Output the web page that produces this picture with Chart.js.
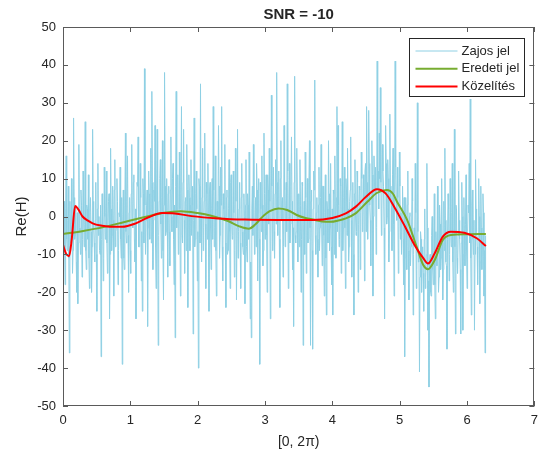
<!DOCTYPE html>
<html>
<head>
<meta charset="utf-8">
<script src="https://cdn.jsdelivr.net/npm/chart.js@4/dist/chart.umd.min.js"></script>
<style>
  html, body { margin: 0; padding: 0; background: #ffffff; }
  canvas { display: block; }
</style>
</head>
<body>
<canvas id="c" width="545" height="456"></canvas>
<script>
// ---- data ----
const chartTitle = 'SNR = -10';
const xAxisTitle = '[0, 2\u03C0)';
const yAxisTitle = 'Re(H)';
const seriesLabels = ['Zajos jel', 'Eredeti jel', 'K\u00f6zel\u00edt\u00e9s'];
const xTickValues = [0, 1, 2, 3, 4, 5, 6, 7];
const yTickValues = [-50, -40, -30, -20, -10, 0, 10, 20, 30, 40, 50];

// noisy signal, uniformly sampled on [0, 2pi)
const noisyValues = [
  -12,-3,4,-8,-18,2,16,-6,-9,-1,8,-11,-36,4,-2,-7,10,-2,-15,-9,26,5,-6,-5,3,-12,-20,1,-23,-7,19,-3,-4,-10,7,3,-16,-6,12,-1,
  -8,-2,25,-9,-14,3,2,-6,11,-11,-19,1,5,-4,-20,-8,23,4,-3,-7,-12,-1,9,-10,-25,2,14,-5,0,-9,-10,3,-37,-6,6,-2,-17,-11,13,0,
  -6,1,12,-7,-15,-3,4,6,-27,-10,18,2,-9,-5,8,-1,-21,7,15,-8,-4,-3,10,4,-18,-9,1,0,13,-6,-11,5,-39,-2,7,-11,-14,3,22,-4,
  -7,4,16,-5,-20,1,5,-9,-15,6,19,-2,-3,9,11,-6,-12,2,-27,-3,9,8,21,-8,-8,0,14,5,-17,-4,-25,10,6,-7,39,3,-10,-1,3,7,
  -29,-3,12,6,-6,2,18,-7,33,9,-14,-1,7,4,24,-8,-19,7,23,0,-34,-5,4,10,15,-2,-11,5,20,-9,-22,3,38,8,-5,-4,10,1,-16,6,
  8,-4,-13,7,21,0,-4,10,14,-6,-18,3,-32,8,33,-3,2,11,-10,-8,17,2,-21,6,29,-5,-7,9,23,-1,-15,4,5,-9,19,7,-24,0,11,5,
  -9,3,15,-5,3,8,-31,-1,26,-8,-6,6,12,2,-17,-4,-40,10,8,-7,35,1,-12,5,18,-9,-3,4,22,-2,-19,9,6,-6,14,0,-25,7,9,-3,
  -14,2,10,-6,29,7,-8,-3,16,-9,-21,4,4,0,24,8,-11,-5,13,3,29,-8,-17,6,2,-1,19,-7,-24,5,7,-10,-9,2,15,-4,-19,9,11,-2,
  -6,-5,12,1,-16,-9,18,4,-22,-3,23,-11,-4,2,9,-7,-19,5,14,-4,-8,-10,6,0,-23,3,15,-8,-12,6,3,-6,17,-1,-27,-12,-32,2,8,-5,
  19,5,-10,-3,5,-8,14,7,-17,1,10,-6,-39,9,2,-4,16,3,-13,-9,22,6,-6,0,11,-5,-20,11,7,-2,18,4,-27,-7,32,8,-9,2,13,-4,
  -11,6,15,-2,38,9,-5,3,12,-6,-24,10,20,-1,3,5,-16,-8,24,7,-8,2,9,-4,35,12,-19,0,14,-7,-2,8,21,4,-14,-3,-29,9,37,-5,
  -7,-4,18,6,-12,1,6,-8,15,3,-20,-6,9,8,-34,-2,4,-10,17,5,-15,0,10,-7,-6,9,20,-3,-34,4,7,-9,-35,2,12,7,36,-5,-10,1,
  5,-6,-16,3,13,-9,-3,5,19,-2,-13,8,8,-5,-21,1,11,-11,-26,4,2,-7,20,6,-9,-3,14,-8,-18,2,-26,7,6,-10,16,0,-11,5,29,-4,
  24,3,-8,-6,10,8,-15,0,25,-9,-3,5,13,-3,-19,10,7,-5,18,2,-12,-8,4,7,21,-1,-16,4,9,-10,-26,6,15,1,-5,-4,12,9,-20,-2,
  8,7,-14,1,17,10,-4,-2,11,5,-17,12,14,-4,29,9,-6,3,28,14,3,-1,-13,6,20,11,-21,0,16,8,6,13,-10,-3,41,7,12,2,22,10,
  34,9,-5,2,19,12,8,-3,-27,7,24,14,-2,0,15,10,-12,-4,27,8,4,3,-9,11,18,-2,-21,6,41,13,2,-1,13,5,-15,-6,17,8,-6,1,
  -10,2,8,-6,-18,5,-37,-11,5,-2,-14,3,12,-9,-22,0,1,-13,-8,-5,10,4,-26,-10,-3,-7,14,1,-19,-14,30,-4,-12,-9,-41,-16,-4,-6,-20,-12,
  -8,-15,-25,-6,2,-19,-16,-10,14,-3,-30,-17,-45,-12,-10,-20,-21,-5,0,-14,-18,-9,6,-18,-27,-4,-9,-13,8,-8,-20,-16,3,-2,-14,-11,10,-7,-22,-14,
  4,-9,18,-1,-12,-13,-35,-6,6,2,-17,-10,10,-4,-8,1,14,-12,-20,-3,23,-8,-31,3,2,-11,-15,-5,12,-1,-6,-14,-31,-7,9,0,-30,-10,5,-4,
  -13,-2,11,-9,-19,-4,3,1,14,-7,31,-11,-26,3,7,-6,-10,-1,-30,-10,15,2,-4,-8,-18,-5,10,0,-23,-12,8,-3,-14,-7,6,1,-21,-9,-36,-5
];

// original signal (Eredeti jel)
const origX = [0, 0.3, 0.6, 0.9, 1.2, 1.5, 1.75, 2.0, 2.2, 2.45, 2.62, 2.76, 2.85, 2.95, 3.07, 3.2, 3.33, 3.47, 3.6, 3.71, 3.85, 3.97, 4.1, 4.2, 4.35, 4.52, 4.66, 4.81, 4.9, 4.96, 5.11, 5.25, 5.35, 5.42, 5.52, 5.64, 5.76, 6.0, 6.28];
const origY = [-4.6, -3.8, -2.8, -1.5, -0.2, 1.0, 1.4, 0.9, 0.2, -1.2, -2.6, -3.2, -2.2, -0.3, 1.4, 2.1, 1.7, 0.4, -0.4, -0.8, -1.3, -1.4, -1.0, -0.5, 0.9, 3.9, 6.2, 7.0, 6.0, 3.9, -0.9, -7.9, -12.8, -13.9, -11.5, -6.2, -4.9, -4.7, -4.6];

// approximation (Közelítés)
const approxX = [0, 0.045, 0.09, 0.13, 0.18, 0.23, 0.29, 0.37, 0.44, 0.56, 0.69, 0.88, 1.08, 1.27, 1.47, 1.66, 1.91, 2.3, 2.7, 3.2, 3.7, 4.0, 4.2, 4.35, 4.5, 4.66, 4.79, 4.93, 5.08, 5.22, 5.35, 5.42, 5.52, 5.64, 5.76, 5.96, 6.15, 6.28];
const approxY = [-7.5, -9.8, -10.5, -6.0, 2.8, 1.8, 0.0, -1.1, -1.8, -2.4, -2.7, -2.7, -1.8, -0.2, 0.9, 0.8, 0.1, -0.5, -0.8, -0.9, -0.9, -0.4, 0.8, 2.6, 5.2, 7.2, 6.1, 2.2, -2.7, -7.5, -11.0, -12.4, -9.7, -5.3, -4.0, -4.3, -5.8, -7.8];

// ---- styles ----
const colNoise = '#8fd0e4';
const colOrig = 'rgb(119,172,48)';
const colApprox = '#ff0000';
const axisColor = '#5a5a5a';
const textColor = '#262626';
const fontFamily = "'Liberation Sans', Arial, Helvetica, sans-serif";

const noiseStep = 2 * Math.PI / noisyValues.length;
const noisyPts = noisyValues.map((v, i) => ({ x: i * noiseStep, y: v }));
const origPts = origX.map((x, i) => ({ x: x, y: origY[i] }));
const approxPts = approxX.map((x, i) => ({ x: x, y: approxY[i] }));

const framePlugin = {
  id: 'frame',
  afterDraw(chart) {
    const { ctx, chartArea: a, scales } = chart;
    const x = scales.x, y = scales.y;
    ctx.save();
    ctx.strokeStyle = axisColor;
    ctx.lineWidth = 1;
    ctx.strokeRect(Math.round(a.left) + 0.5, Math.round(a.top) + 0.5,
                   Math.round(a.right - a.left) - 1, Math.round(a.bottom - a.top) - 1);
    const tl = 5;
    ctx.beginPath();
    x.ticks.forEach(t => {
      const px = Math.round(x.getPixelForValue(t.value)) + 0.5;
      ctx.moveTo(px, a.bottom); ctx.lineTo(px, a.bottom - tl);
      ctx.moveTo(px, a.top); ctx.lineTo(px, a.top + tl);
    });
    y.ticks.forEach(t => {
      const py = Math.round(y.getPixelForValue(t.value)) + 0.5;
      ctx.moveTo(a.left, py); ctx.lineTo(a.left + tl, py);
      ctx.moveTo(a.right, py); ctx.lineTo(a.right - tl, py);
    });
    ctx.stroke();

    // legend inside top-right
    const bw = 115, bh = 58;
    const bx = Math.round(a.right - 10 - bw) + 0.5;
    const by = Math.round(a.top + 11) + 0.5;
    ctx.fillStyle = '#ffffff';
    ctx.fillRect(bx, by, bw, bh);
    ctx.strokeStyle = '#262626';
    ctx.lineWidth = 1;
    ctx.strokeRect(bx, by, bw, bh);
    ctx.font = '13px ' + fontFamily;
    ctx.textBaseline = 'middle';
    ctx.textAlign = 'left';
    chart.data.datasets.forEach((ds, i) => {
      const ry = by + 12.5 + i * 17.7;
      ctx.strokeStyle = ds.borderColor;
      ctx.lineWidth = ds.borderWidth;
      ctx.beginPath();
      ctx.moveTo(bx + 6, ry); ctx.lineTo(bx + 48, ry);
      ctx.stroke();
      ctx.fillStyle = textColor;
      ctx.fillText(ds.label, bx + 52, ry);
    });
    ctx.restore();
  }
};

Chart.defaults.font.family = fontFamily;
Chart.defaults.color = textColor;

new Chart(document.getElementById('c').getContext('2d'), {
  type: 'line',
  data: {
    datasets: [
      { label: seriesLabels[0], data: noisyPts, borderColor: colNoise, borderWidth: 1,
        pointRadius: 0, tension: 0, order: 3 },
      { label: seriesLabels[1], data: origPts, borderColor: colOrig, borderWidth: 2,
        pointRadius: 0, cubicInterpolationMode: 'monotone', order: 2 },
      { label: seriesLabels[2], data: approxPts, borderColor: colApprox, borderWidth: 2,
        pointRadius: 0, cubicInterpolationMode: 'monotone', order: 1 }
    ]
  },
  options: {
    responsive: false,
    animation: false,
    devicePixelRatio: 1,
    layout: { padding: { left: 0, right: 7, top: 0, bottom: 0 } },
    plugins: {
      legend: { display: false },
      tooltip: { enabled: false },
      title: {
        display: true, text: chartTitle, fullSize: false, color: textColor,
        font: { size: 15, weight: 'bold', family: fontFamily },
        padding: { top: 6, bottom: 3 }
      }
    },
    scales: {
      x: {
        type: 'linear', min: 0, max: 7,
        afterBuildTicks(s) { s.ticks = xTickValues.map(v => ({ value: v })); },
        afterFit(s) { s.height = 50; },
        grid: { display: false, drawTicks: false },
        border: { display: false },
        ticks: { padding: 7, color: textColor, font: { size: 13 }, maxRotation: 0 },
        title: { display: true, text: xAxisTitle, color: textColor,
                 font: { size: 14 }, padding: { top: 0, bottom: 5 } }
      },
      y: {
        type: 'linear', min: -50, max: 50,
        afterBuildTicks(s) { s.ticks = yTickValues.map(v => ({ value: v })); },
        afterFit(s) { s.width = 63; },
        grid: { display: false, drawTicks: false },
        border: { display: false },
        ticks: { padding: 7, color: textColor, font: { size: 13 } },
        title: { display: true, text: yAxisTitle, color: textColor,
                 font: { size: 15 }, padding: { top: 13, bottom: 0 } }
      }
    }
  },
  plugins: [framePlugin]
});
</script>
</body>
</html>
